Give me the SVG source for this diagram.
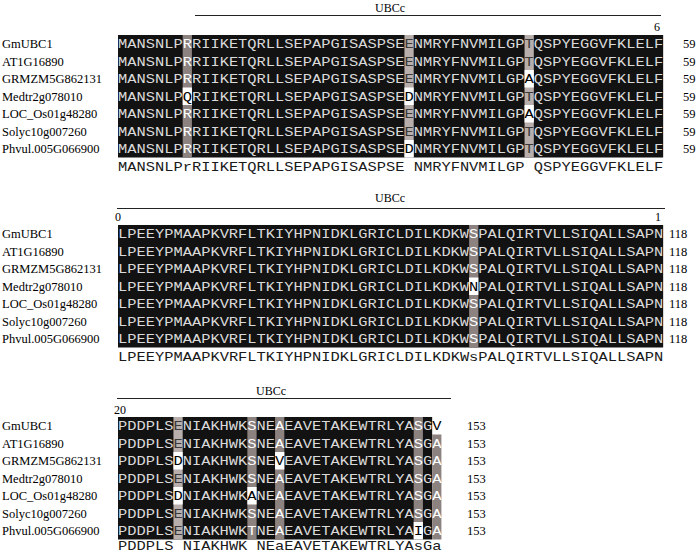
<svg xmlns="http://www.w3.org/2000/svg" width="700" height="553" viewBox="0 0 700 553">
<style>
.seq{font-family:"Liberation Mono","DejaVu Sans Mono",monospace;font-size:13.5px;fill:#dadada;white-space:pre}
.cons{fill:#1a1a1a}
.w{fill:#000}
.g{fill:#fff}
.lg{fill:#3a3a3a}
.name{font-family:"Liberation Serif","Times New Roman",serif;font-size:12.5px;fill:#000}
.lbl{font-family:"Liberation Serif","Times New Roman",serif;font-size:12px;fill:#000}
.blk{fill:#121212}
.dg{fill:#8c8280}
.lgr{fill:#b8afac}
.wh{fill:#fff}
.ln{stroke:#222;stroke-width:1;fill:none}
</style>
<rect width="700" height="553" fill="#fff"/>
<g id="names">
<g class="name">
<text x="2" y="48.2">GmUBC1</text><text x="2" y="65.7">AT1G16890</text><text x="2" y="83.2">GRMZM5G862131</text><text x="2" y="100.7">Medtr2g078010</text><text x="2" y="118.2">LOC_Os01g48280</text><text x="2" y="135.7">Solyc10g007260</text><text x="2" y="153.2">Phvul.005G066900</text>
<text x="2" y="238.2">GmUBC1</text><text x="2" y="255.7">AT1G16890</text><text x="2" y="273.2">GRMZM5G862131</text><text x="2" y="290.7">Medtr2g078010</text><text x="2" y="308.2">LOC_Os01g48280</text><text x="2" y="325.7">Solyc10g007260</text><text x="2" y="343.2">Phvul.005G066900</text>
<text x="2" y="430.2">GmUBC1</text><text x="2" y="447.7">AT1G16890</text><text x="2" y="465.2">GRMZM5G862131</text><text x="2" y="482.7">Medtr2g078010</text><text x="2" y="500.2">LOC_Os01g48280</text><text x="2" y="517.7">Solyc10g007260</text><text x="2" y="535.2">Phvul.005G066900</text>
</g>
</g>
<g id="block1">
<text class="lbl" x="375" y="12">UBCc</text>
<line class="ln" x1="195" y1="15.5" x2="661" y2="15.5"/>
<text class="lbl" x="660" y="31" text-anchor="end">6</text>
<rect class="blk" x="118" y="35" width="545.16" height="122.5"/>
<rect class="dg" x="182.68" y="35" width="9.24" height="122.5"/>
<rect class="wh" x="182.68" y="87.5" width="9.24" height="17.5"/>
<rect class="lgr" x="404.44" y="35" width="9.24" height="122.5"/>
<rect class="wh" x="404.44" y="87.5" width="9.24" height="17.5"/>
<rect class="wh" x="404.44" y="140" width="9.24" height="17.5"/>
<rect class="lgr" x="524.56" y="35" width="9.24" height="122.5"/>
<rect class="wh" x="524.56" y="70" width="9.24" height="17.5"/>
<rect class="wh" x="524.56" y="105" width="9.24" height="17.5"/>
<g class="seq">
<text x="118" y="48.2" textLength="545.16" lengthAdjust="spacingAndGlyphs">MANSNLP<tspan class="g">R</tspan>RIIKETQRLLSEPAPGISASPSE<tspan class="lg">E</tspan>NMRYFNVMILGP<tspan class="lg">T</tspan>QSPYEGGVFKLELF</text>
<text x="118" y="65.7" textLength="545.16" lengthAdjust="spacingAndGlyphs">MANSNLP<tspan class="g">R</tspan>RIIKETQRLLSEPAPGISASPSE<tspan class="lg">E</tspan>NMRYFNVMILGP<tspan class="lg">T</tspan>QSPYEGGVFKLELF</text>
<text x="118" y="83.2" textLength="545.16" lengthAdjust="spacingAndGlyphs">MANSNLP<tspan class="g">R</tspan>RIIKETQRLLSEPAPGISASPSE<tspan class="lg">E</tspan>NMRYFNVMILGP<tspan class="w">A</tspan>QSPYEGGVFKLELF</text>
<text x="118" y="100.7" textLength="545.16" lengthAdjust="spacingAndGlyphs">MANSNLP<tspan class="w">Q</tspan>RIIKETQRLLSEPAPGISASPSE<tspan class="w">D</tspan>NMRYFNVMILGP<tspan class="lg">T</tspan>QSPYEGGVFKLELF</text>
<text x="118" y="118.2" textLength="545.16" lengthAdjust="spacingAndGlyphs">MANSNLP<tspan class="g">R</tspan>RIIKETQRLLSEPAPGISASPSE<tspan class="lg">E</tspan>NMRYFNVMILGP<tspan class="w">A</tspan>QSPYEGGVFKLELF</text>
<text x="118" y="135.7" textLength="545.16" lengthAdjust="spacingAndGlyphs">MANSNLP<tspan class="g">R</tspan>RIIKETQRLLSEPAPGISASPSE<tspan class="lg">E</tspan>NMRYFNVMILGP<tspan class="lg">T</tspan>QSPYEGGVFKLELF</text>
<text x="118" y="153.2" textLength="545.16" lengthAdjust="spacingAndGlyphs">MANSNLP<tspan class="g">R</tspan>RIIKETQRLLSEPAPGISASPSE<tspan class="w">D</tspan>NMRYFNVMILGP<tspan class="lg">T</tspan>QSPYEGGVFKLELF</text>
<text class="cons" x="118" y="170.5" textLength="545.16" lengthAdjust="spacingAndGlyphs" xml:space="preserve">MANSNLPrRIIKETQRLLSEPAPGISASPSE NMRYFNVMILGP QSPYEGGVFKLELF</text>
</g>
<g class="name">
<text x="683" y="48.2">59</text><text x="683" y="65.7">59</text><text x="683" y="83.2">59</text><text x="683" y="100.7">59</text><text x="683" y="118.2">59</text><text x="683" y="135.7">59</text><text x="683" y="153.2">59</text>
</g>
</g>
<g id="block2">
<text class="lbl" x="375" y="202">UBCc</text>
<line class="ln" x1="117" y1="208.5" x2="665" y2="208.5"/>
<text class="lbl" x="115" y="221">0</text>
<text class="lbl" x="661" y="221" text-anchor="end">1</text>
<rect class="blk" x="118" y="225" width="545.16" height="122.5"/>
<rect class="dg" x="469.12" y="225" width="9.24" height="122.5"/>
<rect class="wh" x="469.12" y="277.5" width="9.24" height="17.5"/>
<g class="seq">
<text x="118" y="238.2" textLength="545.16" lengthAdjust="spacingAndGlyphs">LPEEYPMAAPKVRFLTKIYHPNIDKLGRICLDILKDKW<tspan class="g">S</tspan>PALQIRTVLLSIQALLSAPN</text>
<text x="118" y="255.7" textLength="545.16" lengthAdjust="spacingAndGlyphs">LPEEYPMAAPKVRFLTKIYHPNIDKLGRICLDILKDKW<tspan class="g">S</tspan>PALQIRTVLLSIQALLSAPN</text>
<text x="118" y="273.2" textLength="545.16" lengthAdjust="spacingAndGlyphs">LPEEYPMAAPKVRFLTKIYHPNIDKLGRICLDILKDKW<tspan class="g">S</tspan>PALQIRTVLLSIQALLSAPN</text>
<text x="118" y="290.7" textLength="545.16" lengthAdjust="spacingAndGlyphs">LPEEYPMAAPKVRFLTKIYHPNIDKLGRICLDILKDKW<tspan class="w">N</tspan>PALQIRTVLLSIQALLSAPN</text>
<text x="118" y="308.2" textLength="545.16" lengthAdjust="spacingAndGlyphs">LPEEYPMAAPKVRFLTKIYHPNIDKLGRICLDILKDKW<tspan class="g">S</tspan>PALQIRTVLLSIQALLSAPN</text>
<text x="118" y="325.7" textLength="545.16" lengthAdjust="spacingAndGlyphs">LPEEYPMAAPKVRFLTKIYHPNIDKLGRICLDILKDKW<tspan class="g">S</tspan>PALQIRTVLLSIQALLSAPN</text>
<text x="118" y="343.2" textLength="545.16" lengthAdjust="spacingAndGlyphs">LPEEYPMAAPKVRFLTKIYHPNIDKLGRICLDILKDKW<tspan class="g">S</tspan>PALQIRTVLLSIQALLSAPN</text>
<text class="cons" x="118" y="360.5" textLength="545.16" lengthAdjust="spacingAndGlyphs">LPEEYPMAAPKVRFLTKIYHPNIDKLGRICLDILKDKWsPALQIRTVLLSIQALLSAPN</text>
</g>
<g class="name">
<text x="669" y="238.2">118</text><text x="669" y="255.7">118</text><text x="669" y="273.2">118</text><text x="669" y="290.7">118</text><text x="669" y="308.2">118</text><text x="669" y="325.7">118</text><text x="669" y="343.2">118</text>
</g>
</g>
<g id="block3">
<text class="lbl" x="256" y="395">UBCc</text>
<line class="ln" x1="117" y1="398.5" x2="451" y2="398.5"/>
<text class="lbl" x="114" y="414">20</text>
<rect class="blk" x="118" y="417" width="314.16" height="122.5"/>
<rect class="lgr" x="173.44" y="417" width="9.24" height="122.5"/>
<rect class="wh" x="173.44" y="452" width="9.24" height="17.5"/>
<rect class="wh" x="173.44" y="487" width="9.24" height="17.5"/>
<rect class="dg" x="247.36" y="417" width="9.24" height="122.5"/>
<rect class="wh" x="247.36" y="487" width="9.24" height="17.5"/>
<rect class="dg" x="275.08" y="417" width="9.24" height="122.5"/>
<rect class="wh" x="275.08" y="452" width="9.24" height="17.5"/>
<rect class="dg" x="413.68" y="417" width="9.24" height="122.5"/>
<rect class="wh" x="413.68" y="522" width="9.24" height="17.5"/>
<rect class="dg" x="432.16" y="434.5" width="9.24" height="105"/>
<g class="seq">
<text x="118" y="430.2" textLength="323.4" lengthAdjust="spacingAndGlyphs">PDDPLS<tspan class="lg">E</tspan>NIAKHWK<tspan class="g">S</tspan>NE<tspan class="g">A</tspan>EAVETAKEWTRLYA<tspan class="g">S</tspan>G<tspan class="w">V</tspan></text>
<text x="118" y="447.7" textLength="323.4" lengthAdjust="spacingAndGlyphs">PDDPLS<tspan class="lg">E</tspan>NIAKHWK<tspan class="g">S</tspan>NE<tspan class="g">A</tspan>EAVETAKEWTRLYA<tspan class="g">S</tspan>G<tspan class="g">A</tspan></text>
<text x="118" y="465.2" textLength="323.4" lengthAdjust="spacingAndGlyphs">PDDPLS<tspan class="w">D</tspan>NIAKHWK<tspan class="g">S</tspan>NE<tspan class="w">V</tspan>EAVETAKEWTRLYA<tspan class="g">S</tspan>G<tspan class="g">A</tspan></text>
<text x="118" y="482.7" textLength="323.4" lengthAdjust="spacingAndGlyphs">PDDPLS<tspan class="lg">E</tspan>NIAKHWK<tspan class="g">S</tspan>NE<tspan class="g">A</tspan>EAVETAKEWTRLYA<tspan class="g">S</tspan>G<tspan class="g">A</tspan></text>
<text x="118" y="500.2" textLength="323.4" lengthAdjust="spacingAndGlyphs">PDDPLS<tspan class="w">D</tspan>NIAKHWK<tspan class="w">A</tspan>NE<tspan class="g">A</tspan>EAVETAKEWTRLYA<tspan class="g">S</tspan>G<tspan class="g">A</tspan></text>
<text x="118" y="517.7" textLength="323.4" lengthAdjust="spacingAndGlyphs">PDDPLS<tspan class="lg">E</tspan>NIAKHWK<tspan class="g">S</tspan>NE<tspan class="g">A</tspan>EAVETAKEWTRLYA<tspan class="g">S</tspan>G<tspan class="g">A</tspan></text>
<text x="118" y="535.2" textLength="323.4" lengthAdjust="spacingAndGlyphs">PDDPLS<tspan class="lg">E</tspan>NIAKHWK<tspan class="g">T</tspan>NE<tspan class="g">A</tspan>EAVETAKEWTRLYA<tspan class="w">I</tspan>G<tspan class="g">A</tspan></text>
<text class="cons" x="118" y="550" textLength="323.4" lengthAdjust="spacingAndGlyphs" xml:space="preserve">PDDPLS NIAKHWK NEaEAVETAKEWTRLYAsGa</text>
</g>
<g class="name">
<text x="467" y="430.2">153</text><text x="467" y="447.7">153</text><text x="467" y="465.2">153</text><text x="467" y="482.7">153</text><text x="467" y="500.2">153</text><text x="467" y="517.7">153</text><text x="467" y="535.2">153</text>
</g>
</g>
</svg>
